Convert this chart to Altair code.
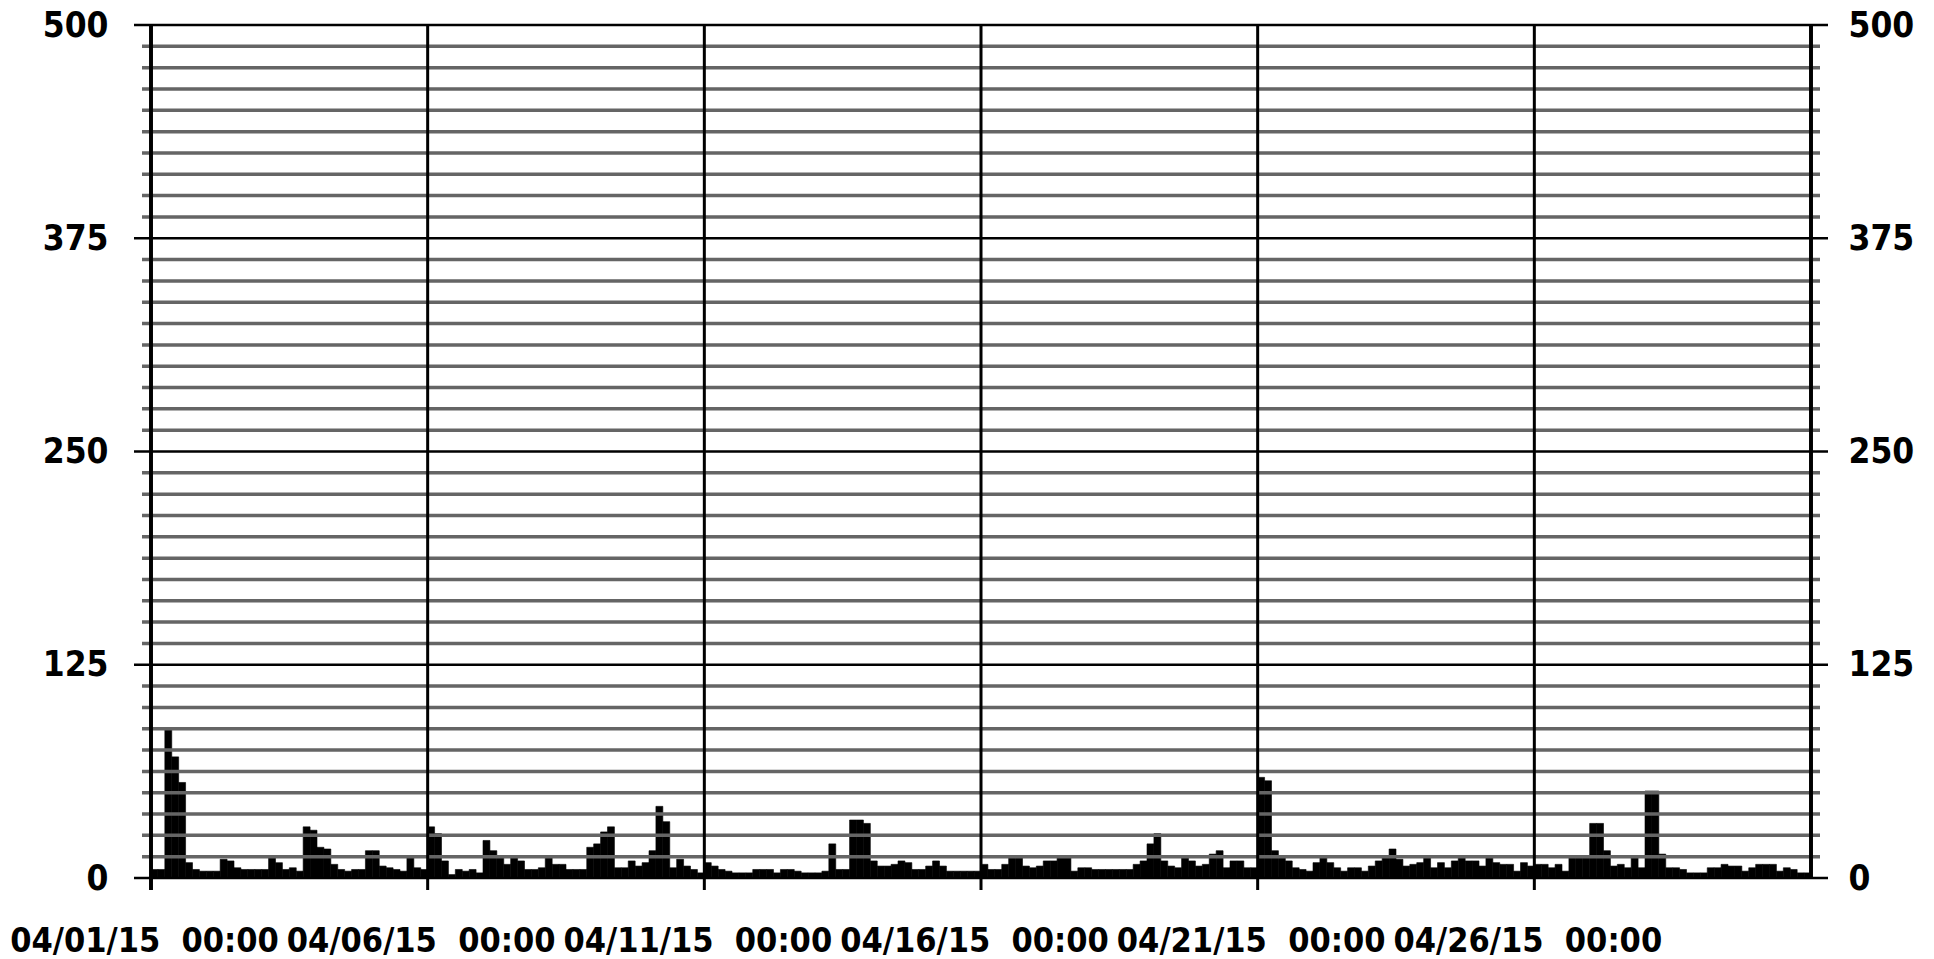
import altair as alt
import pandas as pd

# ---- data: 3-hour totals, one row per day, April 2015 ----
BIN_HOURS = 3
DAY_VALUES = [
    [5, 5, 87, 71, 56, 9, 5, 4],      # 04/01
    [4, 4, 11, 10, 6, 5, 5, 5],       # 04/02
    [5, 12, 9, 5, 6, 4, 30, 28],      # 04/03
    [18, 17, 8, 5, 4, 5, 5, 16],      # 04/04
    [16, 7, 6, 5, 4, 12, 6, 5],       # 04/05
    [30, 26, 10, 2, 5, 4, 5, 3],      # 04/06
    [22, 16, 13, 8, 12, 10, 5, 5],    # 04/07
    [6, 12, 8, 8, 5, 5, 5, 18],       # 04/08
    [20, 27, 30, 6, 6, 10, 7, 9],     # 04/09
    [16, 42, 33, 6, 11, 7, 5, 3],     # 04/10
    [9, 7, 5, 4, 3, 3, 3, 5],         # 04/11
    [5, 5, 3, 5, 5, 4, 3, 3],         # 04/12
    [3, 4, 20, 5, 5, 34, 34, 32],     # 04/13
    [10, 7, 7, 8, 10, 9, 5, 5],       # 04/14
    [7, 10, 7, 4, 4, 4, 4, 4],        # 04/15
    [8, 5, 5, 8, 12, 12, 7, 6],       # 04/16
    [7, 10, 10, 12, 12, 4, 6, 6],     # 04/17
    [5, 5, 5, 5, 5, 5, 8, 10],        # 04/18
    [20, 26, 10, 7, 6, 13, 10, 7],    # 04/19
    [8, 14, 16, 6, 10, 10, 6, 6],     # 04/20
    [59, 57, 16, 12, 10, 6, 5, 4],    # 04/21
    [9, 12, 9, 6, 4, 6, 6, 4],        # 04/22
    [7, 10, 13, 17, 11, 7, 8, 9],     # 04/23
    [12, 6, 9, 6, 10, 13, 10, 10],    # 04/24
    [7, 12, 9, 8, 8, 4, 9, 7],        # 04/25
    [8, 8, 6, 8, 4, 12, 12, 12],      # 04/26
    [32, 32, 16, 7, 8, 6, 12, 6],     # 04/27
    [51, 51, 14, 6, 6, 5, 3, 3],      # 04/28
    [3, 6, 6, 8, 7, 7, 4, 6],         # 04/29
    [8, 8, 8, 4, 6, 5, 3, 3],         # 04/30
]

Y_LABEL_VALUES = [0, 125, 250, 375, 500]
X_TICK_HOURS = [0, 120, 240, 360, 480, 600]
X_TICK_LABELS = [
    "04/01/15\u00a0\u00a000:00",
    "04/06/15\u00a0\u00a000:00",
    "04/11/15\u00a0\u00a000:00",
    "04/16/15\u00a0\u00a000:00",
    "04/21/15\u00a0\u00a000:00",
    "04/26/15\u00a0\u00a000:00",
]
X_DOMAIN = [0, 720]
Y_DOMAIN = [0, 500]
MINOR_STEP = 12.5

W, H = 1660, 853
FONT = "DejaVu Sans Condensed, Liberation Sans Narrow, sans-serif"

rows = []
for d, day in enumerate(DAY_VALUES):
    for k, v in enumerate(day):
        s = d * 24 + k * BIN_HOURS
        rows.append({"start": s, "end": s + BIN_HOURS, "value": v})
bars_df = pd.DataFrame(rows)

minor_vals = [i * MINOR_STEP for i in range(1, int(Y_DOMAIN[1] / MINOR_STEP))
              if (i * MINOR_STEP) % 125 != 0]
minor_df = pd.DataFrame({"v": minor_vals})
major_df = pd.DataFrame({"v": Y_LABEL_VALUES})
vline_df = pd.DataFrame({"start": X_TICK_HOURS[1:]})

xs = alt.Scale(domain=X_DOMAIN, nice=False, zero=False)
ys = alt.Scale(domain=Y_DOMAIN, nice=False)

label_expr = ""
for h, lab in zip(X_TICK_HOURS, X_TICK_LABELS):
    label_expr += f"datum.value == {h} ? '{lab}' : "
label_expr += "''"

common_axis = dict(domain=False, ticks=False, tickSize=0, grid=False,
                   labelFont=FONT, labelFontWeight="bold", labelLimit=0,
                   labelColor="black", title=None, labelOverlap=False)

x_axis = alt.Axis(orient="bottom", values=X_TICK_HOURS, labelExpr=label_expr,
                  labelPadding=46, labelAngle=0, labelFlush=False,
                  labelOffset=-7, labelBaseline="top", labelFontSize=34,
                  **common_axis)

minor = alt.Chart(minor_df).mark_rule(color="#656565", strokeWidth=3.5).encode(
    y=alt.Y("v:Q", scale=ys, axis=None),
    x=alt.value(-9), x2=alt.value(W + 9),
)

major = alt.Chart(major_df).mark_rule(color="black", strokeWidth=2.5).encode(
    y=alt.Y("v:Q", scale=ys,
            axis=alt.Axis(orient="right", values=Y_LABEL_VALUES, labelPadding=37,
                          labelFontSize=35, **common_axis)),
    x=alt.value(-17), x2=alt.value(W + 17),
)

bars = alt.Chart(bars_df).mark_rect(color="black", stroke="black", strokeWidth=0.6).encode(
    x=alt.X("start:Q", scale=xs, axis=x_axis),
    x2="end:Q",
    y=alt.Y("value:Q", scale=ys,
            axis=alt.Axis(orient="left", values=Y_LABEL_VALUES, labelPadding=43,
                          labelFontSize=35, **common_axis)),
    y2=alt.datum(0),
)

vlines = alt.Chart(vline_df).mark_rule(color="black", strokeWidth=3).encode(
    x=alt.X("start:Q", scale=xs, axis=x_axis),
    y=alt.value(0), y2=alt.value(H + 12),
)

left_axis = alt.Chart(major_df).mark_rule(color="black", strokeWidth=3).encode(
    x=alt.value(0), y=alt.value(0), y2=alt.value(H + 12),
)
right_axis = alt.Chart(major_df).mark_rule(color="black", strokeWidth=3).encode(
    x=alt.value(W), y=alt.value(0), y2=alt.value(H),
)

chart = alt.layer(bars, minor, major, vlines, left_axis, right_axis).resolve_scale(
    y="independent"
).resolve_axis(y="independent").properties(
    width=W, height=H,
    padding={"left": 151, "top": 25, "right": 123, "bottom": 81},
    autosize=alt.AutoSizeParams(type="none"),
    background="white",
).configure_view(stroke=None)

chart.save("out.html", embed_options={"renderer": "svg", "actions": False})
